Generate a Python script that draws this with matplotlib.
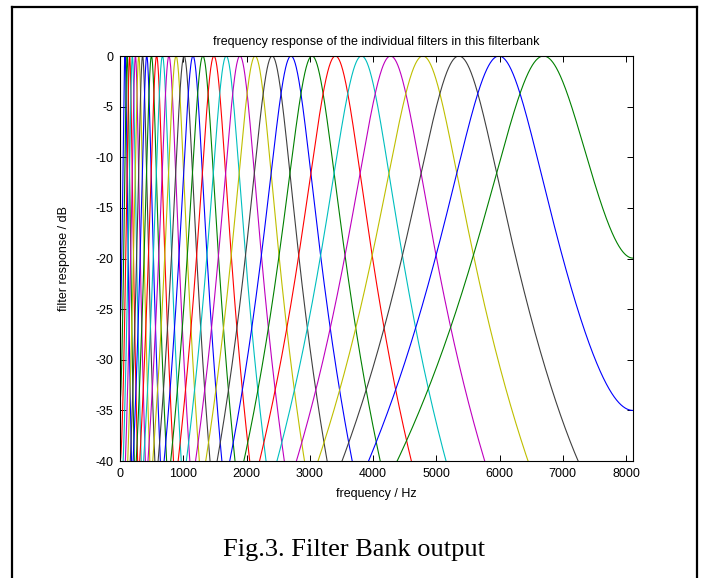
import numpy as np
import matplotlib
matplotlib.use("Agg")
import matplotlib.pyplot as plt
from matplotlib.lines import Line2D

center_freqs = [79, 113, 152, 195, 244, 297, 357, 423, 497, 579,
                671, 773, 886, 1013, 1154, 1310, 1485, 1679, 1896, 2136,
                2405, 2703, 3036, 3406, 3818, 4277, 4788, 5357, 5990, 6695]
nyquist = 8110          # right edge of the plot (Hz)
bw_factor = 1.019       # bandwidth relative to ERB
order = 4

x_ticks = [0, 1000, 2000, 3000, 4000, 5000, 6000, 7000, 8000]
y_ticks = [0, -5, -10, -15, -20, -25, -30, -35, -40]

# old matlab colour order
colors = [(0, 0, 1), (0, 0.5, 0), (1, 0, 0), (0, 0.75, 0.75),
          (0.75, 0, 0.75), (0.75, 0.75, 0), (0.25, 0.25, 0.25)]

plt.rcParams['font.family'] = ['Liberation Sans', 'DejaVu Sans']
plt.rcParams['axes.unicode_minus'] = False

fig = plt.figure(figsize=(7.01, 5.78), dpi=100)
ax = fig.add_axes([0.1712, 0.2024, 0.7318, 0.7007])

f = np.linspace(0, nyquist, 1500)


def term(d, b):
    return (1 + (d / b) ** 2) ** (-order / 2)


for i, fc in enumerate(center_freqs):
    b = bw_factor * (fc / 9.26449 + 24.7)
    a = term(f - fc, b) + term(f + fc, b) + term(2 * nyquist - f - fc, b)
    h = 20 * np.log10(a / a.max())
    ax.plot(f, h, color=colors[i % len(colors)], lw=0.8)

ax.set_xlim(0, nyquist)
ax.set_ylim(-40, 0)
ax.set_xticks(x_ticks)
ax.set_yticks(y_ticks)
ax.tick_params(direction='in', top=True, right=True, length=4, width=0.7,
               labelsize=9)
ax.tick_params(axis='x', pad=5)
ax.tick_params(axis='y', pad=5)
for s in ax.spines.values():
    s.set_linewidth(0.8)

ax.set_title('frequency response of the individual filters in this filterbank',
             fontsize=9, pad=8)
ax.set_xlabel('frequency / Hz', fontsize=9, labelpad=6)
ax.set_ylabel('filter response / dB', fontsize=9, labelpad=18)

# page frame and caption
W, H = 701, 578
for xs, ys in [([12, 697], [7, 7]), ([12, 12], [7, 578]), ([697, 697], [7, 578])]:
    fig.add_artist(Line2D([x / W for x in xs], [1 - y / H for y in ys],
                          color='black', lw=1.6, transform=fig.transFigure))
fig.text(354 / W, 1 - 550 / H, 'Fig.3. Filter Bank output', ha='center', va='center',
         fontsize=19, family=['Liberation Serif', 'DejaVu Serif'])

fig.savefig('out.png', dpi=100)
